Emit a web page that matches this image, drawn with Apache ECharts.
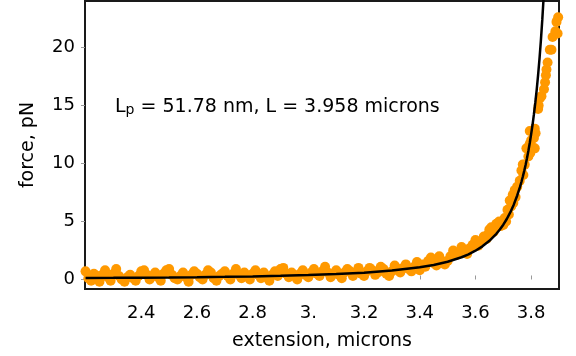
<!DOCTYPE html>
<html><head><meta charset="utf-8">
<script src="https://cdn.jsdelivr.net/npm/echarts@6/dist/echarts.min.js"></script>
<style>html,body{margin:0;padding:0;background:#fff}#c{width:576px;height:356px}</style>
</head><body><div id="c"></div>
<script>
const xTickValues = [2.4, 2.6, 2.8, 3.0, 3.2, 3.4, 3.6, 3.8];
const xTickLabels = ['2.4', '2.6', '2.8', '3.', '3.2', '3.4', '3.6', '3.8'];
const yTickValues = [0, 5, 10, 15, 20];
const yTickLabels = ['0', '5', '10', '15', '20'];

// measured extension (microns) / force (pN) points
const measuredForce = [
  [2.20,0.7],[2.21,0.1],[2.22,-0.1],[2.23,0.5],[2.24,0.3],[2.25,-0.2],[2.26,0.4],[2.27,0.8],[2.28,0.2],[2.29,-0.1],
  [2.30,0.5],[2.31,0.9],[2.32,0.3],[2.33,0.0],[2.34,-0.2],[2.35,0.2],[2.36,0.4],[2.37,0.1],[2.38,-0.1],[2.39,0.3],
  [2.40,0.7],[2.41,0.8],[2.42,0.4],[2.43,0.0],[2.44,0.3],[2.45,0.6],[2.46,0.2],[2.47,-0.1],[2.48,0.5],[2.49,0.8],
  [2.50,0.9],[2.51,0.4],[2.52,0.1],[2.53,0.0],[2.54,0.3],[2.55,0.6],[2.56,0.2],[2.57,-0.2],[2.58,0.4],[2.59,0.7],
  [2.60,0.5],[2.61,0.2],[2.62,0.0],[2.63,0.4],[2.64,0.8],[2.65,0.6],[2.66,0.1],[2.67,-0.1],[2.68,0.3],[2.69,0.5],
  [2.70,0.7],[2.71,0.3],[2.72,0.0],[2.73,0.5],[2.74,0.9],[2.75,0.4],[2.76,0.1],[2.77,0.6],[2.78,0.3],[2.79,0.0],
  [2.80,0.5],[2.81,0.8],[2.82,0.4],[2.83,0.1],[2.84,0.6],[2.85,0.2],[2.86,-0.1],[2.87,0.4],[2.88,0.7],[2.89,0.3],
  [2.90,0.9],[2.91,1.0],[2.92,0.5],[2.93,0.2],[2.94,0.6],[2.95,0.3],[2.96,0.0],[2.97,0.5],[2.98,0.8],[2.99,0.4],
  [3.00,0.2],[3.01,0.6],[3.02,0.9],[3.03,0.5],[3.04,0.3],[3.05,0.7],[3.06,1.1],[3.07,0.6],[3.08,0.2],[3.09,0.5],
  [3.10,0.8],[3.11,0.4],[3.12,0.1],[3.13,0.6],[3.14,0.9],[3.15,0.7],[3.16,0.3],[3.17,0.6],[3.18,1.0],[3.19,0.5],
  [3.20,0.3],[3.21,0.7],[3.22,1.0],[3.23,0.8],[3.24,0.4],[3.25,0.6],[3.26,1.1],[3.27,0.9],[3.28,0.5],[3.29,0.3],
  [3.30,0.7],[3.31,1.2],[3.32,0.9],[3.33,0.6],[3.34,1.0],[3.35,1.3],[3.36,0.9],[3.37,0.7],[3.38,1.1],[3.39,1.5],
  [3.40,0.8],[3.41,1.3],[3.42,1.1],[3.43,1.6],[3.44,1.9],[3.45,1.4],[3.46,1.2],[3.47,2.0],[3.48,1.6],[3.49,1.3],
  [3.50,1.6],[3.51,2.0],[3.52,2.5],[3.53,2.1],[3.54,2.3],[3.55,2.8],[3.56,2.4],[3.57,2.2],[3.58,2.7],[3.59,3.0],
  [3.60,3.4],[3.61,2.9],[3.62,3.3],[3.63,3.7],[3.64,3.5],[3.645,3.9],[3.65,4.3],[3.657,4.5],[3.665,4.1],[3.675,4.8],
  [3.685,5.0],[3.69,4.6],[3.70,4.7],[3.705,5.3],[3.71,5.0],[3.715,6.0],[3.72,5.6],[3.723,6.8],[3.728,6.3],[3.734,7.3],
  [3.736,6.6],[3.741,7.7],[3.744,7.1],[3.75,8.0],[3.759,8.5],[3.765,9.4],[3.77,9.9],[3.772,9.0],[3.777,9.9],[3.783,11.3],
  [3.79,10.6],[3.795,12.8],[3.795,11.7],[3.797,10.9],[3.80,12.0],[3.805,11.4],[3.81,12.2],[3.813,13.0],[3.813,11.3],[3.816,12.6],
  [3.825,14.7],[3.827,15.0],[3.831,15.6],[3.837,15.8],[3.846,16.4],[3.85,17.0],[3.853,17.6],[3.855,18.1],[3.859,18.7],[3.867,19.8],
  [3.873,19.8],[3.877,20.9],[3.887,21.4],[3.891,22.2],[3.895,21.2],[3.897,22.6]
];

// worm-like-chain fit curve, read as points
const fitExtension = [2.2,2.3,2.4,2.5,2.6,2.7,2.8,2.9,3.0,3.1,3.2,3.3,3.4,3.45,3.5,3.55,3.575,3.6,3.625,3.65,3.675,3.6875,3.7,3.7125,3.725,3.7375,3.75,3.76,3.765,3.77,3.775,3.78,3.785,3.79,3.795,3.8,3.805,3.81,3.815,3.82,3.825,3.83,3.835,3.84,3.845,3.85];
const fitForce = [0.125,0.139,0.156,0.176,0.201,0.231,0.268,0.316,0.379,0.465,0.585,0.765,1.047,1.254,1.532,1.918,2.171,2.479,2.856,3.33,3.935,4.303,4.724,5.21,5.78,6.449,7.24,7.98,8.40,8.85,9.34,9.87,10.44,11.07,11.76,12.53,13.33,14.25,15.26,16.37,17.63,19.03,20.60,22.39,24.40,26.7];

const FONT = 'DejaVu Sans';
const chart = echarts.init(document.getElementById('c'), null, {renderer: 'canvas'});
chart.setOption({
  animation: false,
  backgroundColor: '#fff',
  grid: {left: 85, right: 17, top: 1, bottom: 63, show: true, borderColor: '#1a1a1a', borderWidth: 2, backgroundColor: 'transparent'},
  xAxis: {
    type: 'value', min: 2.198, max: 3.9,
    name: 'extension, microns', nameLocation: 'middle', nameGap: 43,
    nameTextStyle: {fontFamily: FONT, fontSize: 19, color: '#000'},
    axisLine: {show: false},
    splitLine: {show: false},
    axisTick: {show: true, inside: true, length: 4, customValues: xTickValues, lineStyle: {color: '#999'}},
    axisLabel: {customValues: xTickValues, margin: 15, fontFamily: FONT, fontSize: 18, color: '#000',
      formatter: v => { const i = xTickValues.findIndex(t => Math.abs(t - v) < 1e-6); return i >= 0 ? xTickLabels[i] : ''; }}
  },
  yAxis: {
    type: 'value', min: -0.82, max: 24,
    name: 'force, pN', nameLocation: 'middle', nameGap: 47,
    nameTextStyle: {fontFamily: FONT, fontSize: 19, color: '#000'},
    axisLine: {show: false},
    splitLine: {show: false},
    axisTick: {show: true, inside: false, length: 4, customValues: yTickValues, lineStyle: {color: '#999'}},
    axisLabel: {customValues: yTickValues, margin: 10, fontFamily: FONT, fontSize: 18, color: '#000', padding: [0, 0, 6, 0],
      formatter: v => { const i = yTickValues.findIndex(t => Math.abs(t - v) < 1e-6); return i >= 0 ? yTickLabels[i] : ''; }}
  },
  graphic: [{
    type: 'text', left: 115, top: 98, z: 10,
    style: {
      text: '{n|L}{s|p}{n| = 51.78 nm, L = 3.958 microns}',
      rich: {
        n: {fontFamily: FONT, fontSize: 19, lineHeight: 21, fill: '#000', verticalAlign: 'bottom'},
        s: {fontFamily: FONT, fontSize: 14, lineHeight: 5, fill: '#000', verticalAlign: 'bottom'}
      }
    }
  }],
  series: [
    {type: 'scatter', data: measuredForce, symbol: 'circle', symbolSize: 10,
      itemStyle: {color: '#ff9900', opacity: 1}, z: 2, silent: true},
    {type: 'line', data: fitExtension.map((x, i) => [x, fitForce[i]]), showSymbol: false, smooth: false,
      lineStyle: {color: '#000', width: 2.5}, z: 3, clip: true, silent: true}
  ]
});
</script></body></html>
